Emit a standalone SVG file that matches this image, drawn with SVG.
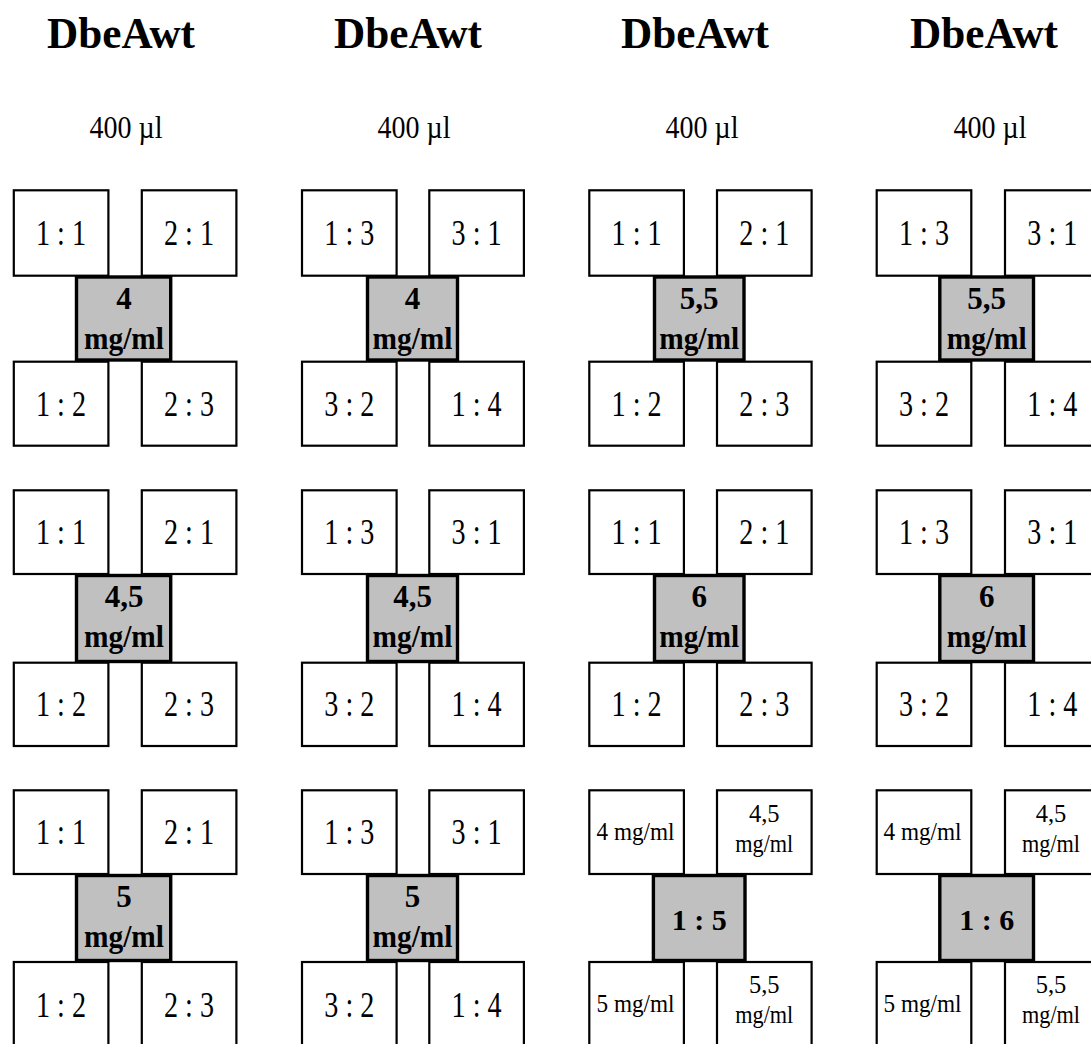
<svg xmlns="http://www.w3.org/2000/svg" width="1091" height="1044" viewBox="0 0 1091 1044">
<style>
.bg{fill:#fff}
.box{fill:#fff;stroke:#000;stroke-width:2.2}
.conc{fill:#c0c0c0;stroke:#000;stroke-width:3.4}
text{font-family:"Liberation Serif","Times New Roman",serif;text-anchor:middle;fill:#000}
.title{font-size:45px;font-weight:bold}
.vol{font-size:32px}
.lbl{font-size:35px}
.cb{font-size:31px;font-weight:bold}
.sm{font-size:24.5px}
.rb{font-size:30px;font-weight:bold}
</style>
<rect class="bg" x="0" y="0" width="1091" height="1044"/>
<g id="headers">
<text class="title" x="121" y="48" textLength="148" lengthAdjust="spacingAndGlyphs">DbeAwt</text>
<text class="title" x="408" y="48" textLength="148" lengthAdjust="spacingAndGlyphs">DbeAwt</text>
<text class="title" x="695" y="48" textLength="148" lengthAdjust="spacingAndGlyphs">DbeAwt</text>
<text class="title" x="984" y="48" textLength="148" lengthAdjust="spacingAndGlyphs">DbeAwt</text>
<text class="vol" x="126" y="138" textLength="73" lengthAdjust="spacingAndGlyphs">400 µl</text>
<text class="vol" x="414" y="138" textLength="73" lengthAdjust="spacingAndGlyphs">400 µl</text>
<text class="vol" x="702" y="138" textLength="73" lengthAdjust="spacingAndGlyphs">400 µl</text>
<text class="vol" x="990" y="138" textLength="73" lengthAdjust="spacingAndGlyphs">400 µl</text>
</g>

<!-- Row 1 -->
<g id="r1c1">
<g id="r1c1-conc"><rect class="conc" x="76.5" y="277" width="94.2" height="83"/><text class="cb" x="124" y="309.3">4</text><text class="cb" x="124" y="349.3" textLength="80" lengthAdjust="spacingAndGlyphs">mg/ml</text></g>
<g id="r1c1-tl"><rect class="box" x="13.8" y="190.3" width="94.6" height="85.4"/><text class="lbl" x="61" y="245" textLength="50" lengthAdjust="spacingAndGlyphs">1 : 1</text></g>
<g id="r1c1-tr"><rect class="box" x="141.8" y="190.3" width="94.6" height="85.4"/><text class="lbl" x="189" y="245" textLength="50" lengthAdjust="spacingAndGlyphs">2 : 1</text></g>
<g id="r1c1-bl"><rect class="box" x="13.8" y="361.7" width="94.6" height="84"/><text class="lbl" x="61" y="416" textLength="50" lengthAdjust="spacingAndGlyphs">1 : 2</text></g>
<g id="r1c1-br"><rect class="box" x="141.8" y="361.7" width="94.6" height="84"/><text class="lbl" x="189" y="416" textLength="50" lengthAdjust="spacingAndGlyphs">2 : 3</text></g>
</g>
<g id="r1c2">
<g id="r1c2-conc"><rect class="conc" x="367.5" y="277" width="90" height="83"/><text class="cb" x="412.5" y="309.3">4</text><text class="cb" x="412.5" y="349.3" textLength="80" lengthAdjust="spacingAndGlyphs">mg/ml</text></g>
<g id="r1c2-tl"><rect class="box" x="302" y="190.3" width="94.6" height="85.4"/><text class="lbl" x="349.3" y="245" textLength="50" lengthAdjust="spacingAndGlyphs">1 : 3</text></g>
<g id="r1c2-tr"><rect class="box" x="429.3" y="190.3" width="94.6" height="85.4"/><text class="lbl" x="476.6" y="245" textLength="50" lengthAdjust="spacingAndGlyphs">3 : 1</text></g>
<g id="r1c2-bl"><rect class="box" x="302" y="361.7" width="94.6" height="84"/><text class="lbl" x="349.3" y="416" textLength="50" lengthAdjust="spacingAndGlyphs">3 : 2</text></g>
<g id="r1c2-br"><rect class="box" x="429.3" y="361.7" width="94.6" height="84"/><text class="lbl" x="476.6" y="416" textLength="50" lengthAdjust="spacingAndGlyphs">1 : 4</text></g>
</g>
<g id="r1c3">
<g id="r1c3-conc"><rect class="conc" x="654.5" y="277" width="89.5" height="83"/><text class="cb" x="699.2" y="309.3">5,5</text><text class="cb" x="699.2" y="349.3" textLength="80" lengthAdjust="spacingAndGlyphs">mg/ml</text></g>
<g id="r1c3-tl"><rect class="box" x="589.3" y="190.3" width="94.6" height="85.4"/><text class="lbl" x="636.6" y="245" textLength="50" lengthAdjust="spacingAndGlyphs">1 : 1</text></g>
<g id="r1c3-tr"><rect class="box" x="717" y="190.3" width="94.6" height="85.4"/><text class="lbl" x="764.3" y="245" textLength="50" lengthAdjust="spacingAndGlyphs">2 : 1</text></g>
<g id="r1c3-bl"><rect class="box" x="589.3" y="361.7" width="94.6" height="84"/><text class="lbl" x="636.6" y="416" textLength="50" lengthAdjust="spacingAndGlyphs">1 : 2</text></g>
<g id="r1c3-br"><rect class="box" x="717" y="361.7" width="94.6" height="84"/><text class="lbl" x="764.3" y="416" textLength="50" lengthAdjust="spacingAndGlyphs">2 : 3</text></g>
</g>
<g id="r1c4">
<g id="r1c4-conc"><rect class="conc" x="939.8" y="277" width="93.7" height="83"/><text class="cb" x="986.7" y="309.3">5,5</text><text class="cb" x="986.7" y="349.3" textLength="80" lengthAdjust="spacingAndGlyphs">mg/ml</text></g>
<g id="r1c4-tl"><rect class="box" x="876.7" y="190.3" width="94.6" height="85.4"/><text class="lbl" x="924" y="245" textLength="50" lengthAdjust="spacingAndGlyphs">1 : 3</text></g>
<g id="r1c4-tr"><rect class="box" x="1005" y="190.3" width="94.6" height="85.4"/><text class="lbl" x="1052.3" y="245" textLength="50" lengthAdjust="spacingAndGlyphs">3 : 1</text></g>
<g id="r1c4-bl"><rect class="box" x="876.7" y="361.7" width="94.6" height="84"/><text class="lbl" x="924" y="416" textLength="50" lengthAdjust="spacingAndGlyphs">3 : 2</text></g>
<g id="r1c4-br"><rect class="box" x="1005" y="361.7" width="94.6" height="84"/><text class="lbl" x="1052.3" y="416" textLength="50" lengthAdjust="spacingAndGlyphs">1 : 4</text></g>
</g>

<!-- Row 2 -->
<g id="r2c1">
<g id="r2c1-conc"><rect class="conc" x="76.5" y="575.5" width="94.2" height="86"/><text class="cb" x="124" y="607">4,5</text><text class="cb" x="124" y="647" textLength="80" lengthAdjust="spacingAndGlyphs">mg/ml</text></g>
<g id="r2c1-tl"><rect class="box" x="13.8" y="490.3" width="94.6" height="83.7"/><text class="lbl" x="61" y="544" textLength="50" lengthAdjust="spacingAndGlyphs">1 : 1</text></g>
<g id="r2c1-tr"><rect class="box" x="141.8" y="490.3" width="94.6" height="83.7"/><text class="lbl" x="189" y="544" textLength="50" lengthAdjust="spacingAndGlyphs">2 : 1</text></g>
<g id="r2c1-bl"><rect class="box" x="13.8" y="662.7" width="94.6" height="83.3"/><text class="lbl" x="61" y="716.4" textLength="50" lengthAdjust="spacingAndGlyphs">1 : 2</text></g>
<g id="r2c1-br"><rect class="box" x="141.8" y="662.7" width="94.6" height="83.3"/><text class="lbl" x="189" y="716.4" textLength="50" lengthAdjust="spacingAndGlyphs">2 : 3</text></g>
</g>
<g id="r2c2">
<g id="r2c2-conc"><rect class="conc" x="367.5" y="575.5" width="90" height="86"/><text class="cb" x="412.5" y="607">4,5</text><text class="cb" x="412.5" y="647" textLength="80" lengthAdjust="spacingAndGlyphs">mg/ml</text></g>
<g id="r2c2-tl"><rect class="box" x="302" y="490.3" width="94.6" height="83.7"/><text class="lbl" x="349.3" y="544" textLength="50" lengthAdjust="spacingAndGlyphs">1 : 3</text></g>
<g id="r2c2-tr"><rect class="box" x="429.3" y="490.3" width="94.6" height="83.7"/><text class="lbl" x="476.6" y="544" textLength="50" lengthAdjust="spacingAndGlyphs">3 : 1</text></g>
<g id="r2c2-bl"><rect class="box" x="302" y="662.7" width="94.6" height="83.3"/><text class="lbl" x="349.3" y="716.4" textLength="50" lengthAdjust="spacingAndGlyphs">3 : 2</text></g>
<g id="r2c2-br"><rect class="box" x="429.3" y="662.7" width="94.6" height="83.3"/><text class="lbl" x="476.6" y="716.4" textLength="50" lengthAdjust="spacingAndGlyphs">1 : 4</text></g>
</g>
<g id="r2c3">
<g id="r2c3-conc"><rect class="conc" x="654.5" y="575.5" width="89.5" height="86"/><text class="cb" x="699.2" y="607">6</text><text class="cb" x="699.2" y="647" textLength="80" lengthAdjust="spacingAndGlyphs">mg/ml</text></g>
<g id="r2c3-tl"><rect class="box" x="589.3" y="490.3" width="94.6" height="83.7"/><text class="lbl" x="636.6" y="544" textLength="50" lengthAdjust="spacingAndGlyphs">1 : 1</text></g>
<g id="r2c3-tr"><rect class="box" x="717" y="490.3" width="94.6" height="83.7"/><text class="lbl" x="764.3" y="544" textLength="50" lengthAdjust="spacingAndGlyphs">2 : 1</text></g>
<g id="r2c3-bl"><rect class="box" x="589.3" y="662.7" width="94.6" height="83.3"/><text class="lbl" x="636.6" y="716.4" textLength="50" lengthAdjust="spacingAndGlyphs">1 : 2</text></g>
<g id="r2c3-br"><rect class="box" x="717" y="662.7" width="94.6" height="83.3"/><text class="lbl" x="764.3" y="716.4" textLength="50" lengthAdjust="spacingAndGlyphs">2 : 3</text></g>
</g>
<g id="r2c4">
<g id="r2c4-conc"><rect class="conc" x="939.8" y="575.5" width="93.7" height="86"/><text class="cb" x="986.7" y="607">6</text><text class="cb" x="986.7" y="647" textLength="80" lengthAdjust="spacingAndGlyphs">mg/ml</text></g>
<g id="r2c4-tl"><rect class="box" x="876.7" y="490.3" width="94.6" height="83.7"/><text class="lbl" x="924" y="544" textLength="50" lengthAdjust="spacingAndGlyphs">1 : 3</text></g>
<g id="r2c4-tr"><rect class="box" x="1005" y="490.3" width="94.6" height="83.7"/><text class="lbl" x="1052.3" y="544" textLength="50" lengthAdjust="spacingAndGlyphs">3 : 1</text></g>
<g id="r2c4-bl"><rect class="box" x="876.7" y="662.7" width="94.6" height="83.3"/><text class="lbl" x="924" y="716.4" textLength="50" lengthAdjust="spacingAndGlyphs">3 : 2</text></g>
<g id="r2c4-br"><rect class="box" x="1005" y="662.7" width="94.6" height="83.3"/><text class="lbl" x="1052.3" y="716.4" textLength="50" lengthAdjust="spacingAndGlyphs">1 : 4</text></g>
</g>

<!-- Row 3 -->
<g id="r3c1">
<g id="r3c1-conc"><rect class="conc" x="76.5" y="875.5" width="94.2" height="85"/><text class="cb" x="124" y="907">5</text><text class="cb" x="124" y="947" textLength="80" lengthAdjust="spacingAndGlyphs">mg/ml</text></g>
<g id="r3c1-tl"><rect class="box" x="13.8" y="790.3" width="94.6" height="83.7"/><text class="lbl" x="61" y="844" textLength="50" lengthAdjust="spacingAndGlyphs">1 : 1</text></g>
<g id="r3c1-tr"><rect class="box" x="141.8" y="790.3" width="94.6" height="83.7"/><text class="lbl" x="189" y="844" textLength="50" lengthAdjust="spacingAndGlyphs">2 : 1</text></g>
<g id="r3c1-bl"><rect class="box" x="13.8" y="962" width="94.6" height="84"/><text class="lbl" x="61" y="1016.5" textLength="50" lengthAdjust="spacingAndGlyphs">1 : 2</text></g>
<g id="r3c1-br"><rect class="box" x="141.8" y="962" width="94.6" height="84"/><text class="lbl" x="189" y="1016.5" textLength="50" lengthAdjust="spacingAndGlyphs">2 : 3</text></g>
</g>
<g id="r3c2">
<g id="r3c2-conc"><rect class="conc" x="367.5" y="875.5" width="90" height="85"/><text class="cb" x="412.5" y="907">5</text><text class="cb" x="412.5" y="947" textLength="80" lengthAdjust="spacingAndGlyphs">mg/ml</text></g>
<g id="r3c2-tl"><rect class="box" x="302" y="790.3" width="94.6" height="83.7"/><text class="lbl" x="349.3" y="844" textLength="50" lengthAdjust="spacingAndGlyphs">1 : 3</text></g>
<g id="r3c2-tr"><rect class="box" x="429.3" y="790.3" width="94.6" height="83.7"/><text class="lbl" x="476.6" y="844" textLength="50" lengthAdjust="spacingAndGlyphs">3 : 1</text></g>
<g id="r3c2-bl"><rect class="box" x="302" y="962" width="94.6" height="84"/><text class="lbl" x="349.3" y="1016.5" textLength="50" lengthAdjust="spacingAndGlyphs">3 : 2</text></g>
<g id="r3c2-br"><rect class="box" x="429.3" y="962" width="94.6" height="84"/><text class="lbl" x="476.6" y="1016.5" textLength="50" lengthAdjust="spacingAndGlyphs">1 : 4</text></g>
</g>
<g id="r3c3">
<g id="r3c3-conc"><rect class="conc" x="653.4" y="875.5" width="91.6" height="85"/><text class="rb" x="699.2" y="930">1 : 5</text></g>
<g id="r3c3-tl"><rect class="box" x="589.3" y="790.3" width="94.6" height="83.7"/><text class="sm" x="635.5" y="840" textLength="78" lengthAdjust="spacingAndGlyphs">4 mg/ml</text></g>
<g id="r3c3-tr"><rect class="box" x="717" y="790.3" width="94.6" height="83.7"/><text class="sm" x="764.3" y="821.7">4,5</text><text class="sm" x="764.3" y="851.7" textLength="58" lengthAdjust="spacingAndGlyphs">mg/ml</text></g>
<g id="r3c3-bl"><rect class="box" x="589.3" y="962" width="94.6" height="84"/><text class="sm" x="635.5" y="1011.7" textLength="78" lengthAdjust="spacingAndGlyphs">5 mg/ml</text></g>
<g id="r3c3-br"><rect class="box" x="717" y="962" width="94.6" height="84"/><text class="sm" x="764.3" y="993">5,5</text><text class="sm" x="764.3" y="1023" textLength="58" lengthAdjust="spacingAndGlyphs">mg/ml</text></g>
</g>
<g id="r3c4">
<g id="r3c4-conc"><rect class="conc" x="939.8" y="875.5" width="93.7" height="85"/><text class="rb" x="986.7" y="930">1 : 6</text></g>
<g id="r3c4-tl"><rect class="box" x="876.7" y="790.3" width="94.6" height="83.7"/><text class="sm" x="922.5" y="840" textLength="78" lengthAdjust="spacingAndGlyphs">4 mg/ml</text></g>
<g id="r3c4-tr"><rect class="box" x="1005" y="790.3" width="94.6" height="83.7"/><text class="sm" x="1051" y="821.7">4,5</text><text class="sm" x="1051" y="851.7" textLength="58" lengthAdjust="spacingAndGlyphs">mg/ml</text></g>
<g id="r3c4-bl"><rect class="box" x="876.7" y="962" width="94.6" height="84"/><text class="sm" x="922.5" y="1011.7" textLength="78" lengthAdjust="spacingAndGlyphs">5 mg/ml</text></g>
<g id="r3c4-br"><rect class="box" x="1005" y="962" width="94.6" height="84"/><text class="sm" x="1051" y="993">5,5</text><text class="sm" x="1051" y="1023" textLength="58" lengthAdjust="spacingAndGlyphs">mg/ml</text></g>
</g>
</svg>
